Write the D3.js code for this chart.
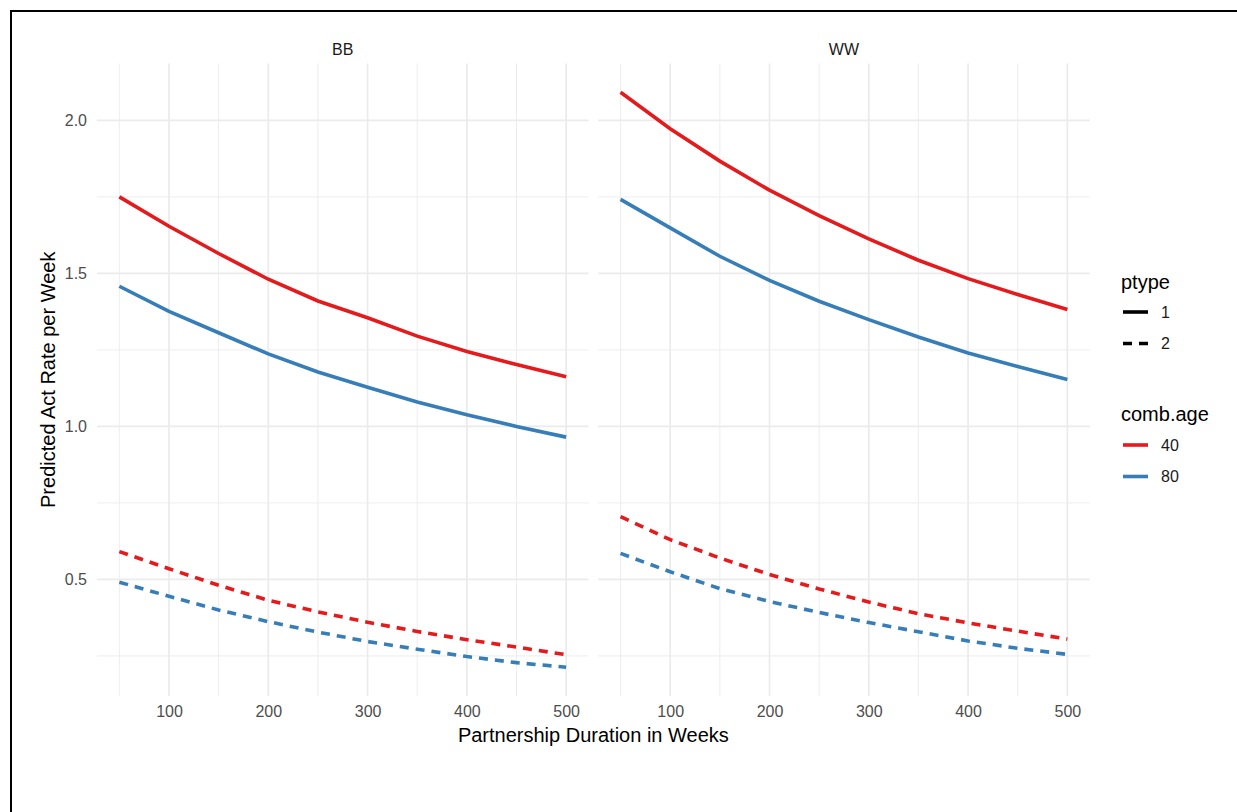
<!DOCTYPE html>
<html lang="en">
<head>
    <meta charset="UTF-8">
    <title>Predicted Act Rate per Week</title>
    <script src="https://d3js.org/d3.v7.min.js"></script>
    <style>
        body { margin: 0; background: #fff; }
        svg { display: block; font-family: "Liberation Sans", Arial, sans-serif; }
    </style>
</head>
<body>
    <svg width="1237" height="812"></svg>
    <script>
        // x values (weeks) shared by every line
        const durations = [50, 100, 150, 200, 250, 300, 350, 400, 450, 500];
        const facets = ['BB', 'WW'];
        const ageLevels = ['40', '80'];
        const ptypeLevels = ['1', '2'];
        const xTicks = [100, 200, 300, 400, 500];
        const yTicks = [0.5, 1.0, 1.5, 2.0];

        // predicted act rate
        const bb_age40_p1 = [1.750, 1.654, 1.565, 1.481, 1.410, 1.355, 1.295, 1.245, 1.202, 1.162];
        const bb_age80_p1 = [1.458, 1.376, 1.306, 1.237, 1.178, 1.128, 1.080, 1.038, 1.000, 0.965];
        const bb_age40_p2 = [0.591, 0.535, 0.481, 0.432, 0.394, 0.360, 0.330, 0.303, 0.279, 0.254];
        const bb_age80_p2 = [0.491, 0.445, 0.400, 0.362, 0.328, 0.297, 0.272, 0.248, 0.228, 0.213];
        const ww_age40_p1 = [2.092, 1.973, 1.867, 1.772, 1.689, 1.613, 1.543, 1.483, 1.431, 1.382];
        const ww_age80_p1 = [1.742, 1.649, 1.556, 1.477, 1.409, 1.349, 1.292, 1.240, 1.196, 1.153];
        const ww_age40_p2 = [0.705, 0.630, 0.570, 0.516, 0.469, 0.426, 0.388, 0.358, 0.331, 0.305];
        const ww_age80_p2 = [0.585, 0.525, 0.470, 0.428, 0.392, 0.359, 0.329, 0.299, 0.275, 0.255];

        const series = [
            { facet: 'BB', age: '40', ptype: '1', values: bb_age40_p1 },
            { facet: 'BB', age: '80', ptype: '1', values: bb_age80_p1 },
            { facet: 'BB', age: '40', ptype: '2', values: bb_age40_p2 },
            { facet: 'BB', age: '80', ptype: '2', values: bb_age80_p2 },
            { facet: 'WW', age: '40', ptype: '1', values: ww_age40_p1 },
            { facet: 'WW', age: '80', ptype: '1', values: ww_age80_p1 },
            { facet: 'WW', age: '40', ptype: '2', values: ww_age40_p2 },
            { facet: 'WW', age: '80', ptype: '2', values: ww_age80_p2 }
        ];

        const color = d3.scaleOrdinal().domain(ageLevels).range(['#E41A1C', '#377EB8']);
        const dash = d3.scaleOrdinal().domain(ptypeLevels).range(['none', '9,7']);
        const lineW = 3.6;

        const svg = d3.select('svg');
        svg.append('rect').attr('width', 1237).attr('height', 812).attr('fill', '#fff');

        const panelTop = 63.5, panelBottom = 696;
        const panelW = 491.5, panelLefts = [97, 598.2];

        // ggplot style 5% expansion
        const expand = ([a, b]) => { const p = (b - a) * 0.05; return [a - p, b + p]; };
        const xDom = expand(d3.extent(durations));
        const yDom = expand(d3.extent(series.flatMap(s => s.values)));
        const y = d3.scaleLinear().domain(yDom).range([panelBottom, panelTop]);

        const yMinor = [0.25, 0.75, 1.25, 1.75];
        const xMinor = [50, 150, 250, 350, 450];
        const gridCol = '#EBEBEB';

        facets.forEach((f, i) => {
            const x = d3.scaleLinear().domain(xDom).range([panelLefts[i], panelLefts[i] + panelW]);
            const g = svg.append('g');

            g.selectAll('.ymin').data(yMinor.filter(v => v > yDom[0] && v < yDom[1])).enter().append('line')
                .attr('x1', x.range()[0]).attr('x2', x.range()[1])
                .attr('y1', d => y(d)).attr('y2', d => y(d))
                .attr('stroke', gridCol).attr('stroke-width', 0.9);
            g.selectAll('.xmin').data(xMinor).enter().append('line')
                .attr('x1', d => x(d)).attr('x2', d => x(d))
                .attr('y1', panelTop).attr('y2', panelBottom)
                .attr('stroke', gridCol).attr('stroke-width', 0.9);
            g.selectAll('.ymaj').data(yTicks).enter().append('line')
                .attr('x1', x.range()[0]).attr('x2', x.range()[1])
                .attr('y1', d => y(d)).attr('y2', d => y(d))
                .attr('stroke', gridCol).attr('stroke-width', 1.7);
            g.selectAll('.xmaj').data(xTicks).enter().append('line')
                .attr('x1', d => x(d)).attr('x2', d => x(d))
                .attr('y1', panelTop).attr('y2', panelBottom)
                .attr('stroke', gridCol).attr('stroke-width', 1.7);

            // strip label
            g.append('text').attr('x', (x.range()[0] + x.range()[1]) / 2).attr('y', 49)
                .attr('text-anchor', 'middle').attr('dominant-baseline', 'central')
                .attr('font-size', 16).attr('fill', '#1A1A1A').text(f);

            // x axis tick labels
            const xAxis = g.append('g').attr('transform', `translate(0,${panelBottom})`)
                .call(d3.axisBottom(x).tickValues(xTicks).tickSize(0).tickPadding(10).tickFormat(d3.format('d')));
            xAxis.select('.domain').remove();
            xAxis.selectAll('text').attr('font-size', 16).attr('fill', '#4D4D4D')
                .attr('font-family', '"Liberation Sans", Arial, sans-serif');

            const line = d3.line().x((d, k) => x(durations[k])).y(d => y(d));
            g.selectAll('.series').data(series.filter(s => s.facet === f)).enter().append('path')
                .attr('d', s => line(s.values))
                .attr('fill', 'none')
                .attr('stroke', s => color(s.age))
                .attr('stroke-width', lineW)
                .attr('stroke-dasharray', s => dash(s.ptype));
        });

        // y axis tick labels
        const yAxis = svg.append('g').attr('transform', `translate(${panelLefts[0]},0)`)
            .call(d3.axisLeft(y).tickValues(yTicks).tickSize(0).tickPadding(10).tickFormat(d3.format('.1f')));
        yAxis.select('.domain').remove();
        yAxis.selectAll('text').attr('font-size', 16).attr('fill', '#4D4D4D')
            .attr('font-family', '"Liberation Sans", Arial, sans-serif');

        // axis titles
        svg.append('text').attr('x', (panelLefts[0] + panelLefts[1] + panelW) / 2).attr('y', 735)
            .attr('text-anchor', 'middle').attr('dominant-baseline', 'central')
            .attr('font-size', 20).attr('fill', '#000').text('Partnership Duration in Weeks');
        svg.append('text').attr('transform', `translate(48,${(panelTop + panelBottom) / 2}) rotate(-90)`)
            .attr('text-anchor', 'middle').attr('dominant-baseline', 'central')
            .attr('font-size', 20).attr('fill', '#000').text('Predicted Act Rate per Week');

        // legends
        const leg = svg.append('g');
        leg.append('text').attr('x', 1121).attr('y', 282).attr('dominant-baseline', 'central')
            .attr('font-size', 20).text('ptype');
        ptypeLevels.forEach((p, i) => {
            const yy = 312 + i * 31.5;
            leg.append('line').attr('x1', 1123).attr('x2', 1148).attr('y1', yy).attr('y2', yy)
                .attr('stroke', '#000').attr('stroke-width', lineW).attr('stroke-dasharray', dash(p));
            leg.append('text').attr('x', 1161).attr('y', yy).attr('dominant-baseline', 'central')
                .attr('font-size', 16).attr('fill', '#1A1A1A').text(p);
        });
        leg.append('text').attr('x', 1121).attr('y', 414).attr('dominant-baseline', 'central')
            .attr('font-size', 20).text('comb.age');
        ageLevels.forEach((a, i) => {
            const yy = 445 + i * 31.5;
            leg.append('line').attr('x1', 1123).attr('x2', 1148).attr('y1', yy).attr('y2', yy)
                .attr('stroke', color(a)).attr('stroke-width', lineW);
            leg.append('text').attr('x', 1161).attr('y', yy).attr('dominant-baseline', 'central')
                .attr('font-size', 16).attr('fill', '#1A1A1A').text(a);
        });

        // outer frame (runs off the right and bottom edges)
        svg.append('rect').attr('x', 11).attr('y', 11).attr('width', 1400).attr('height', 1000)
            .attr('fill', 'none').attr('stroke', '#000').attr('stroke-width', 2);
    </script>
</body>
</html>
